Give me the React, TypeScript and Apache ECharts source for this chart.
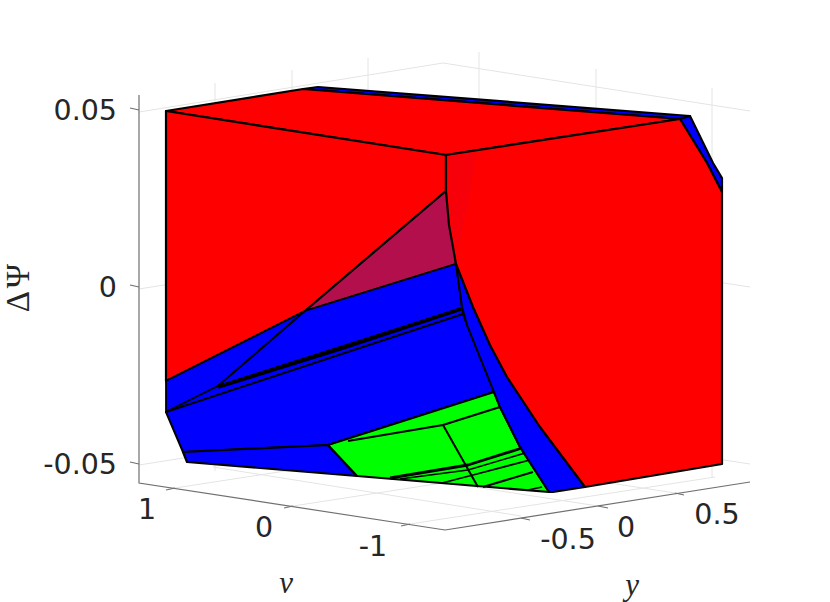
import React, { useEffect, useRef } from "react";
import * as echarts from "echarts";

type P = [number, number];

// Projected plane: the 3D view, in projected units.
const planeWidth = 830;
const planeHeight = 602;

// Light grid of the back walls and floor
const gridLines: P[][] = [
  [[139, 112], [443, 63], [750, 111]],
  [[139, 289], [443, 240], [750, 287]],
  [[139, 465], [443, 417], [750, 464]],
  [[215, 83], [215, 471]],
  [[292, 70], [292, 459]],
  [[368, 58], [368, 446]],
  [[479, 52], [479, 441]],
  [[596, 69], [596, 459]],
  [[712, 88], [712, 477]],
  [[213, 467], [521, 516]],
  [[292, 459], [598, 506]],
  [[369, 446], [675, 493]],
  [[175, 488], [480, 441]],
  [[293, 506], [598, 459]],
  [[410, 524], [715, 477]],
];

// Axis rulers and tick marks
const axisLines: P[][] = [
  [[139, 95], [139, 483], [445, 530], [750, 482]],
  [[130, 108], [139, 110]],
  [[130, 285], [139, 287]],
  [[130, 462], [139, 464]],
  [[166, 490], [175, 488]],
  [[284, 508], [293, 506]],
  [[401, 526], [410, 524]],
  [[521, 518], [530, 520]],
  [[598, 506], [608, 508]],
  [[675, 493], [684, 495]],
];

// Polyhedron faces
const redTop: P[] = [[166, 111], [303, 89], [680, 119], [446, 155]];
const blueTopStrip: P[] = [[303, 89], [318, 87], [690, 116], [680, 119]];
const blueRightStrip: P[] = [[680, 119], [690, 116], [713, 163], [722, 178], [722, 192], [707, 163]];
const redLeft: P[] = [[166, 111], [446, 155], [446, 191], [305, 311], [166, 381]];
const redRight: P[] = [[446, 155], [680, 119], [707, 163], [722, 192], [722, 464], [585, 487], [540, 427], [507, 377], [490, 345], [473, 307], [456, 264], [449, 225], [446, 191]];
const shadedTriangle: P[] = [[446, 191], [456, 264], [305, 311]];
const blueSliver: P[] = [[166, 381], [305, 311], [218, 386], [166, 412]];
const blueUpper: P[] = [[305, 311], [456, 264], [462, 308], [218, 386]];
const blueThin: P[] = [[218, 386], [462, 308], [463, 314], [166, 412]];
const blueMain: P[] = [[166, 412], [463, 314], [467, 325], [494, 392], [328, 445], [183, 452]];
const blueLower: P[] = [[183, 452], [328, 445], [357, 476], [187, 462]];
const blueSide: P[] = [[456, 264], [473, 307], [490, 345], [507, 377], [540, 427], [585, 487], [553, 492], [549, 492], [520, 447], [500, 407], [494, 392], [467, 325], [462, 307]];
const greenMain: P[] = [[328, 445], [494, 392], [500, 407], [520, 447], [549, 492], [357, 476]];

const faces: { pts: P[]; fill: string; w: number }[] = [
  { pts: blueTopStrip, fill: "#0000ff", w: 2.2 },
  { pts: redTop, fill: "#ff0000", w: 2.2 },
  { pts: blueRightStrip, fill: "#0000ff", w: 2.2 },
  { pts: redLeft, fill: "#ff0000", w: 2.2 },
  { pts: shadedTriangle, fill: "#b20f4c", w: 2 },
  { pts: blueSliver, fill: "#0000ff", w: 1.8 },
  { pts: blueUpper, fill: "#0000ff", w: 1.8 },
  { pts: blueThin, fill: "#0000ff", w: 1.6 },
  { pts: blueMain, fill: "#0000ff", w: 2 },
  { pts: blueLower, fill: "#0000ff", w: 2.2 },
  { pts: greenMain, fill: "#00ff00", w: 2.2 },
  { pts: blueSide, fill: "#0000ff", w: 2 },
  { pts: redRight, fill: "#ff0000", w: 2.2 },
];

// Faint overlap patch where two faces coincide
const overlapPatches: { pts: P[]; fill: string }[] = [
  { pts: [[448, 157], [476, 153], [468, 205], [456, 255], [450, 215]], fill: "#f7000a" },
];

// Edges across the faces
const edgeLines: { pts: P[]; w: number }[] = [
  { pts: [[218, 387], [340, 349], [461, 309]], w: 3.8 },
  { pts: [[348, 441], [443, 425], [500, 407]], w: 2 },
  { pts: [[443, 425], [478, 487]], w: 2 },
  { pts: [[390, 478], [468, 465], [522, 448]], w: 2.8 },
  { pts: [[400, 479], [468, 470], [525, 453]], w: 1.6 },
  { pts: [[442, 483], [473, 475], [530, 460]], w: 1.8 },
  { pts: [[483, 487], [533, 472]], w: 2 },
  { pts: [[528, 490], [542, 487]], w: 1.6 },
];

// Tick labels
const zTicks = ["0.05", "0", "-0.05"];
const zTickAnchors: P[] = [[117, 110], [117, 287], [117, 464]];
const vTicks = ["1", "0", "-1"];
const vTickAnchors: P[] = [[147, 509], [264, 527], [373, 546]];
const yTicks = ["-0.5", "0", "0.5"];
const yTickAnchors: P[] = [[568, 539], [626, 527], [717, 514]];

const tickFont = '28.5px "DejaVu Sans"';
const texts: { t: string; at: P; align: string; font: string; rot?: number }[] = [
  ...zTicks.map((t, i) => ({ t, at: zTickAnchors[i], align: "right", font: tickFont })),
  ...vTicks.map((t, i) => ({ t, at: vTickAnchors[i], align: "center", font: tickFont })),
  ...yTicks.map((t, i) => ({ t, at: yTickAnchors[i], align: "center", font: tickFont })),
  { t: "v", at: [286, 582], align: "center", font: 'italic 31px "Liberation Serif"' },
  { t: "y", at: [632, 584], align: "center", font: 'italic 31px "Liberation Serif"' },
  { t: "Δ\u200aΨ", at: [18, 288], align: "center", font: '33px "Liberation Serif"', rot: Math.PI / 2 },
];

function layer(items: any[], draw: (item: any, api: any) => any) {
  return {
    type: "custom",
    coordinateSystem: "cartesian2d",
    silent: true,
    clip: false,
    encode: { x: 0, y: 1 },
    data: items.map((_, i) => [i, i]),
    renderItem: (params: any, api: any) => draw(items[params.dataIndex], api),
  };
}

const poly = (pts: P[], api: any) => pts.map((p) => api.coord(p));

export default function App() {
  const ref = useRef<HTMLDivElement>(null);
  useEffect(() => {
    const chart = echarts.init(ref.current!, undefined, { renderer: "svg" });
    chart.setOption({
      animation: false,
      backgroundColor: "#ffffff",
      grid: { left: 0, right: 0, top: 0, bottom: 0 },
      xAxis: { type: "value", min: 0, max: planeWidth, show: false },
      yAxis: { type: "value", min: 0, max: planeHeight, inverse: true, show: false },
      series: [
        layer(gridLines, (pts, api) => ({
          type: "polyline",
          shape: { points: poly(pts, api) },
          style: { fill: "none", stroke: "#e4e4e4", lineWidth: 1 },
        })),
        layer(axisLines, (pts, api) => ({
          type: "polyline",
          shape: { points: poly(pts, api) },
          style: { fill: "none", stroke: "#707070", lineWidth: 1.2 },
        })),
        layer(faces, (f, api) => ({
          type: "polygon",
          shape: { points: poly(f.pts, api) },
          style: { fill: f.fill, stroke: "#000000", lineWidth: f.w, lineJoin: "round" },
        })),
        layer(overlapPatches, (f, api) => ({
          type: "polygon",
          shape: { points: poly(f.pts, api) },
          style: { fill: f.fill, stroke: "none" },
        })),
        layer(edgeLines, (e, api) => ({
          type: "polyline",
          shape: { points: poly(e.pts, api) },
          style: { fill: "none", stroke: "#000000", lineWidth: e.w, lineJoin: "round" },
        })),
        layer(texts, (t, api) => {
          const [x, y] = api.coord(t.at);
          return {
            type: "text",
            x,
            y,
            rotation: t.rot || 0,
            style: {
              text: t.t,
              font: t.font,
              fill: "#262626",
              textAlign: t.align,
              textVerticalAlign: "middle",
            },
          };
        }),
      ],
    });
    return () => chart.dispose();
  }, []);
  return <div ref={ref} style={{ position: "absolute", left: 0, top: 0, width: 830, height: 602 }} />;
}
